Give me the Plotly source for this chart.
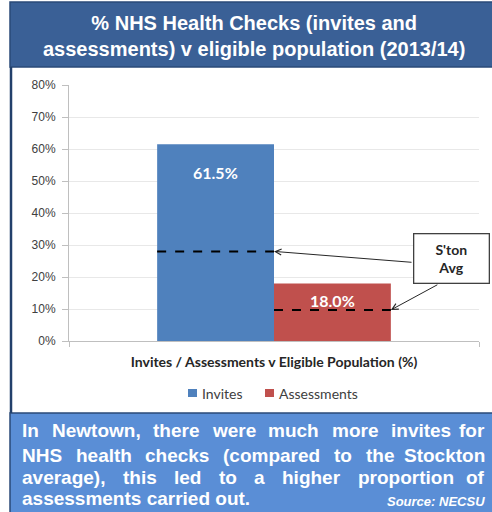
import plotly.graph_objects as go

# ---------------- data ----------------
category = ["Invites / Assessments v Eligible Population (%)"]
series_names = ["Invites", "Assessments"]
series_values = [61.5, 18.0]          # % of eligible population
stockton_avg = [28.0, 9.7]            # Stockton average (dashed lines)
series_colors = ["#4F81BD", "#C0504D"]
label_shift = [-28, -17]              # label offset below bar top (px)
y_ticks = [0, 10, 20, 30, 40, 50, 60, 70, 80]
y_tick_labels = [f"{v}%" for v in y_ticks]

title_text = "% NHS Health Checks (invites and<br>assessments) v eligible population (2013/14)"
body_lines = [
    "In Newtown, there were much more invites for",
    "NHS health checks (compared to the Stockton",
    "average), this led to a higher proportion of",
    "assessments carried out.",
]
body_line_y = [430, 455, 477, 498]
source_text = "Source: NECSU"

# ---------------- layout geometry (px) ----------------
W, H = 492, 512
L, R, T, B = 69, 479, 85, 341
PW, PH = R - L, B - T
def px(x):
    return (x - L) / PW
def py(y):
    return (B - y) / PH

# Arial / Liberation Sans Bold advance widths (per 1000 em) for justification
BOLD_W = {
    " ": 278, "(": 333, ")": 333, ",": 278, ".": 278, ":": 333,
    "I": 278, "N": 722, "H": 722, "S": 667,
    "a": 556, "c": 556, "d": 611, "e": 556, "f": 333, "g": 611, "h": 611, "i": 278,
    "k": 556, "l": 278, "m": 889, "n": 611, "o": 611, "p": 611, "r": 389, "s": 556,
    "t": 333, "u": 611, "v": 556, "w": 778,
}
BODY_FS = 19
TEXT_L, TEXT_R = 20, 487
def text_w(s, fs):
    return sum(BOLD_W.get(ch, 556) for ch in s) * fs / 1000.0

bargap = 0.43
bar_w = (1 - bargap) / len(series_values)

fig = go.Figure()
for i, (name, val, col) in enumerate(zip(series_names, series_values, series_colors)):
    fig.add_trace(go.Bar(
        x=category, y=[val], name=name,
        marker=dict(color=col, line=dict(width=0)),
        hoverinfo="skip", showlegend=False,
    ))

shapes = []
annotations = []

# background frame pieces
shapes.append(dict(type="rect", xref="paper", yref="paper",
                   x0=px(10), x1=px(493), y0=py(67), y1=py(2),
                   fillcolor="#3A6096", line=dict(color="#2A4A78", width=1.5), layer="below"))
shapes.append(dict(type="rect", xref="paper", yref="paper",
                   x0=px(10), x1=px(493), y0=py(513), y1=py(413),
                   fillcolor="#5A8ED6", line=dict(color="#2A4A78", width=1.5), layer="below"))
shapes.append(dict(type="line", xref="paper", yref="paper",
                   x0=px(11), x1=px(11), y0=py(67), y1=py(413),
                   line=dict(color="#22406B", width=2.5)))

# Stockton average dashed lines over each bar
for i, avg in enumerate(stockton_avg):
    x0 = -(1 - bargap) / 2 + i * bar_w
    shapes.append(dict(type="line", xref="x", yref="y",
                       x0=x0, x1=x0 + bar_w, y0=avg, y1=avg,
                       line=dict(color="black", width=2, dash="dash")))

# value labels
for i, val in enumerate(series_values):
    xc = -(1 - bargap) / 2 + (i + 0.5) * bar_w
    annotations.append(dict(x=xc, y=val, xref="x", yref="y", text=f"<b>{val:.1f}%</b>",
                            showarrow=False, yshift=label_shift[i],
                            xanchor="center", yanchor="middle",
                            font=dict(family="Lato", size=16, color="white")))

# S'ton Avg callout box
annotations.append(dict(x=px(451), y=py(258), xref="paper", yref="paper",
                        text="<b>S'ton<br>Avg</b>", showarrow=False,
                        xanchor="center", yanchor="middle",
                        font=dict(family="Lato", size=14, color="#262626"),
                        bordercolor="#404040", borderwidth=1.3, borderpad=6,
                        bgcolor="white", width=62, height=36))
# arrows to the dashed lines
arrow_tails = [(139, 11), (48, -26)]
for i, avg in enumerate(stockton_avg):
    xh = -(1 - bargap) / 2 + (i + 1) * bar_w
    annotations.append(dict(x=xh, y=avg, xref="x", yref="y", text="",
                            showarrow=True, arrowhead=5, arrowsize=1.2, arrowwidth=1,
                            arrowcolor="#262626", ax=arrow_tails[i][0], ay=arrow_tails[i][1]))

# legend (small squares + labels)
legend_pos = [(188, 200), (265, 277)]
for name, col, (sx, tx) in zip(series_names, series_colors, legend_pos):
    shapes.append(dict(type="rect", xref="paper", yref="paper",
                       x0=px(sx), x1=px(sx + 9), y0=py(397), y1=py(389),
                       fillcolor=col, line=dict(width=0)))
    annotations.append(dict(x=px(tx), y=py(393), xref="paper", yref="paper",
                            text=name, showarrow=False, xanchor="left", yanchor="middle",
                            font=dict(family="Lato", size=14, color="#404040")))

# title
annotations.append(dict(x=px(254), y=py(36), xref="paper", yref="paper",
                        text=f"<b>{title_text}</b>", showarrow=False,
                        xanchor="center", yanchor="middle",
                        font=dict(family="Liberation Sans", size=20, color="white")))

# body text, justified (last line left-aligned)
for li, (line, yy) in enumerate(zip(body_lines, body_line_y)):
    words = line.split(" ")
    last = li == len(body_lines) - 1
    if last:
        placements = [(line, TEXT_L)]
    else:
        widths = [text_w(w, BODY_FS) for w in words]
        gap = (TEXT_R - TEXT_L - sum(widths)) / (len(words) - 1)
        placements, x = [], TEXT_L
        for w, ww in zip(words, widths):
            placements.append((w, x))
            x += ww + gap
    for j, (word, xx) in enumerate(placements):
        is_end = (not last) and j == len(placements) - 1
        annotations.append(dict(x=px(TEXT_R if is_end else xx), y=py(yy), xref="paper", yref="paper",
                                text=f"<b>{word}</b>", showarrow=False,
                                xanchor="right" if is_end else "left", yanchor="middle",
                                font=dict(family="Liberation Sans", size=BODY_FS, color="white")))
annotations.append(dict(x=px(487), y=py(501), xref="paper", yref="paper",
                        text=f"<b><i>{source_text}</i></b>", showarrow=False,
                        xanchor="right", yanchor="middle",
                        font=dict(family="Liberation Sans", size=13, color="white")))

fig.update_layout(
    width=W, height=H,
    margin=dict(l=L, r=W - R, t=T, b=H - B),
    paper_bgcolor="white", plot_bgcolor="white",
    barmode="group", bargap=bargap, bargroupgap=0,
    shapes=shapes, annotations=annotations,
    showlegend=False,
    xaxis=dict(showline=True, linecolor="#BFBFBF", linewidth=1,
               ticks="outside", tickson="boundaries", ticklen=5, tickcolor="#BFBFBF",
               tickfont=dict(family="Lato", size=14, color="#262626", weight="bold"),
               ticklabelstandoff=8, fixedrange=True),
    yaxis=dict(range=[0, 80], tickvals=y_ticks, ticktext=y_tick_labels,
               showline=True, linecolor="#BFBFBF", linewidth=1,
               ticks="outside", ticklen=6, tickcolor="#BFBFBF",
               gridcolor="#E8E8E8", zeroline=False,
               tickfont=dict(family="Liberation Sans", size=12, color="#404040"),
               ticklabelstandoff=4, fixedrange=True),
)

fig.write_html("out.html", config={"displayModeBar": False},
               post_script="document.body.style.margin='0';document.body.style.overflow='hidden';")
